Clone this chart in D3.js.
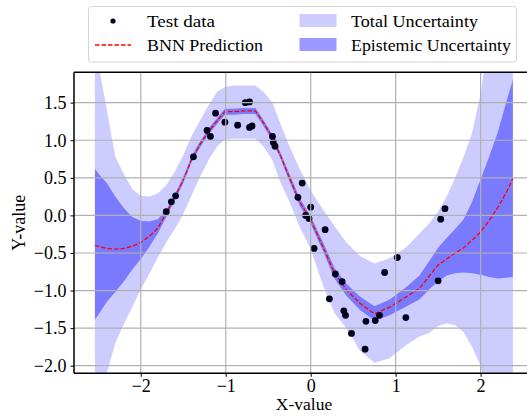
<!DOCTYPE html>
<html>
<head>
<meta charset="utf-8">
<script src="https://cdn.jsdelivr.net/npm/d3@7/dist/d3.min.js"></script>
<style>
  html, body { margin: 0; padding: 0; background: #fff; }
  svg { display: block; }
  text { font-family: "Liberation Serif", "DejaVu Serif", serif; fill: #000; }
</style>
</head>
<body>
<svg id="chart" width="527" height="418"></svg>
<script>
// ---- data ----
const gridX   = [-2.54,-2.48,-2.40,-2.30,-2.20,-2.10,-2.00,-1.90,-1.80,-1.70,-1.60,-1.50,-1.40,-1.30,-1.20,-1.10,-1.01,-0.90,-0.80,-0.65,-0.55,-0.45,-0.35,-0.25,-0.13,0.00,0.15,0.28,0.42,0.58,0.75,0.93,1.13,1.28,1.40,1.50,1.60,1.70,1.80,1.90,2.00,2.10,2.20,2.30,2.38];
const predMean = [-0.40,-0.42,-0.44,-0.45,-0.44,-0.41,-0.36,-0.28,-0.17,0.03,0.24,0.47,0.75,0.95,1.12,1.26,1.38,1.38,1.39,1.39,1.22,1.03,0.78,0.50,0.18,-0.06,-0.43,-0.77,-0.99,-1.17,-1.31,-1.22,-1.08,-0.97,-0.80,-0.66,-0.58,-0.50,-0.43,-0.33,-0.22,-0.07,0.10,0.30,0.49];
const epiUpper = [0.62,0.53,0.43,0.25,0.10,-0.02,-0.07,-0.08,-0.05,0.07,0.28,0.51,0.79,0.99,1.16,1.30,1.42,1.42,1.43,1.43,1.26,1.07,0.82,0.55,0.23,-0.01,-0.37,-0.70,-0.91,-1.08,-1.21,-1.12,-0.95,-0.80,-0.60,-0.43,-0.30,-0.18,-0.05,0.18,0.48,0.78,1.10,1.50,1.81];
const epiLower = [-1.39,-1.29,-1.15,-1.02,-0.88,-0.72,-0.58,-0.42,-0.24,-0.02,0.20,0.43,0.71,0.91,1.08,1.22,1.34,1.34,1.35,1.35,1.18,0.99,0.74,0.45,0.13,-0.11,-0.49,-0.84,-1.07,-1.26,-1.40,-1.33,-1.21,-1.12,-0.98,-0.88,-0.80,-0.77,-0.76,-0.77,-0.79,-0.82,-0.84,-0.83,-0.82];
const totUpper = [2.30,1.90,1.41,0.78,0.55,0.35,0.26,0.25,0.29,0.40,0.58,0.80,1.06,1.27,1.47,1.65,1.71,1.73,1.73,1.73,1.64,1.50,1.20,0.92,0.62,0.33,0.07,-0.14,-0.36,-0.54,-0.64,-0.57,-0.42,-0.24,-0.10,0.05,0.25,0.50,0.78,1.10,1.62,2.40,3.00,3.30,3.50];
const totLower = [-3.00,-2.50,-2.10,-1.70,-1.45,-1.22,-0.98,-0.78,-0.56,-0.36,-0.18,0.02,0.27,0.52,0.74,0.92,1.01,1.02,1.02,1.02,0.91,0.73,0.42,0.18,-0.15,-0.45,-0.95,-1.30,-1.50,-1.80,-1.96,-1.90,-1.72,-1.61,-1.56,-1.47,-1.44,-1.46,-1.55,-1.75,-2.00,-2.60,-3.00,-3.20,-3.30];

const testX = [-1.70,-1.64,-1.59,-1.38,-1.22,-1.18,-1.12,-1.01,-0.86,-0.77,-0.72,-0.72,-0.69,-0.45,-0.44,-0.42,-0.10,-0.15,0.00,-0.06,-0.02,0.17,0.04,0.29,0.37,0.22,0.39,0.41,0.48,0.65,0.64,0.76,0.81,0.87,1.02,1.12,1.50,1.53,1.58];
const testY = [0.05,0.18,0.26,0.78,1.13,1.05,1.36,1.24,1.20,1.50,1.51,1.17,1.19,1.05,0.97,0.92,0.43,0.24,0.11,0.00,-0.04,-0.19,-0.44,-0.78,-0.88,-1.11,-1.27,-1.33,-1.57,-1.41,-1.78,-1.40,-1.33,-0.76,-0.56,-1.36,-0.87,-0.05,0.09];

const xTicks = [-2, -1, 0, 1, 2];
const yTicks = [-2.0, -1.5, -1.0, -0.5, 0.0, 0.5, 1.0, 1.5];
const legendLabels = ["Test data", "BNN Prediction", "Total Uncertainty", "Epistemic Uncertainty"];
const xLabel = "X-value", yLabel = "Y-value";

// ---- layout ----
const FONT = '"Liberation Serif", "DejaVu Serif", serif';
const svg = d3.select("#chart");
const L = 74, R = 533.8, T = 72.3, B = 373.3;
const x = d3.scaleLinear().domain([-2.786, 2.626]).range([L, R]);
const y = d3.scaleLinear().domain([-2.101, 1.904]).range([B, T]);
const fmtMinus = s => s.replace("-", "\u2212");

svg.append("defs").append("clipPath").attr("id", "clip")
  .append("rect").attr("x", L).attr("y", T).attr("width", R - L).attr("height", B - T);

const plot = svg.append("g").attr("clip-path", "url(#clip)");
const idx = d3.range(gridX.length);

// total uncertainty band
plot.append("path")
  .attr("d", d3.area().x(i => x(gridX[i])).y0(i => y(totLower[i])).y1(i => y(totUpper[i]))(idx))
  .attr("fill", "blue").attr("fill-opacity", 0.2);
// epistemic band
plot.append("path")
  .attr("d", d3.area().x(i => x(gridX[i])).y0(i => y(epiLower[i])).y1(i => y(epiUpper[i]))(idx))
  .attr("fill", "blue").attr("fill-opacity", 0.4);

// grid (above patches, below lines)
const grid = svg.append("g");
grid.selectAll(".gx").data(xTicks).join("line")
  .attr("x1", d => x(d)).attr("x2", d => x(d)).attr("y1", T).attr("y2", B)
  .attr("stroke", "#b0b0b0").attr("stroke-width", 1.2);
grid.selectAll(".gy").data(yTicks).join("line")
  .attr("x1", L).attr("x2", R).attr("y1", d => y(d)).attr("y2", d => y(d))
  .attr("stroke", "#b0b0b0").attr("stroke-width", 1.2);

// prediction line
plot.append("path")
  .attr("d", d3.line().x(i => x(gridX[i])).y(i => y(predMean[i]))(idx))
  .attr("fill", "none").attr("stroke", "#ff0000").attr("stroke-width", 1.3)
  .attr("stroke-dasharray", "4.5,2");

// test data
plot.selectAll("circle.pt").data(testX.map((v, i) => [v, testY[i]])).join("circle")
  .attr("cx", d => x(d[0])).attr("cy", d => y(d[1])).attr("r", 3.4)
  .attr("fill", "#00001a");

// axes
const xAxis = d3.axisBottom(x).tickValues(xTicks).tickSize(3.5).tickPadding(4)
  .tickFormat(d => fmtMinus(d3.format("d")(d)));
const yAxis = d3.axisLeft(y).tickValues(yTicks).tickSize(3.5).tickPadding(4)
  .tickFormat(d => fmtMinus(d3.format(".1f")(d)));

const gx = svg.append("g").attr("transform", `translate(0,${B})`).call(xAxis);
const gy = svg.append("g").attr("transform", `translate(${L},0)`).call(yAxis);
[gx, gy].forEach(g => {
  g.attr("font-family", FONT).attr("font-size", null);
  g.select(".domain").remove();
  g.selectAll("line").attr("stroke", "#000").attr("stroke-width", 1);
  g.selectAll("text").style("font-family", FONT).style("font-size", "18px").attr("fill", "#000");
});
gx.selectAll("text").attr("dy", null).attr("y", 18.5);
// spines
svg.append("line").attr("x1", L).attr("x2", L).attr("y1", T).attr("y2", B).attr("stroke", "#000").attr("stroke-width", 1.5);
svg.append("line").attr("x1", L).attr("x2", R).attr("y1", B).attr("y2", B).attr("stroke", "#000").attr("stroke-width", 1.5);
svg.append("line").attr("x1", L).attr("x2", R).attr("y1", T).attr("y2", T).attr("stroke", "#000").attr("stroke-width", 1.5);
svg.append("line").attr("x1", R).attr("x2", R).attr("y1", T).attr("y2", B).attr("stroke", "#000").attr("stroke-width", 1.5);

// axis labels
svg.append("text").attr("x", 304).attr("y", 410).attr("text-anchor", "middle")
  .style("font-size", "17.5px").text(xLabel);
svg.append("text").attr("transform", `translate(25,${(T + B) / 2}) rotate(-90)`).attr("text-anchor", "middle")
  .style("font-size", "18px").text(yLabel);

// legend
const lg = svg.append("g");
lg.append("rect").attr("x", 88.5).attr("y", 6.5).attr("width", 428).attr("height", 55.5).attr("rx", 3)
  .attr("fill", "#fff").attr("fill-opacity", 0.8).attr("stroke", "#d6d6d6").attr("stroke-width", 1);
const row1 = 21, row2 = 45;
lg.append("circle").attr("cx", 113).attr("cy", row1).attr("r", 2.6).attr("fill", "#00001a");
lg.append("line").attr("x1", 95).attr("x2", 131).attr("y1", row2).attr("y2", row2)
  .attr("stroke", "#ff0000").attr("stroke-width", 1.3).attr("stroke-dasharray", "4.5,2");
lg.append("rect").attr("x", 299.5).attr("y", row1 - 7).attr("width", 37).attr("height", 13)
  .attr("fill", "blue").attr("fill-opacity", 0.2);
lg.append("rect").attr("x", 299.5).attr("y", row2 - 7).attr("width", 37).attr("height", 13)
  .attr("fill", "blue").attr("fill-opacity", 0.4);
const lpos = [[147, row1], [147, row2], [351, row1], [351, row2]];
const lwidth = [68, 116, 127, 160];
legendLabels.forEach((t, i) => {
  lg.append("text").attr("x", lpos[i][0]).attr("y", lpos[i][1] + 5.5)
    .attr("textLength", lwidth[i]).attr("lengthAdjust", "spacingAndGlyphs")
    .style("font-size", "17px").text(t);
});
</script>
</body>
</html>
